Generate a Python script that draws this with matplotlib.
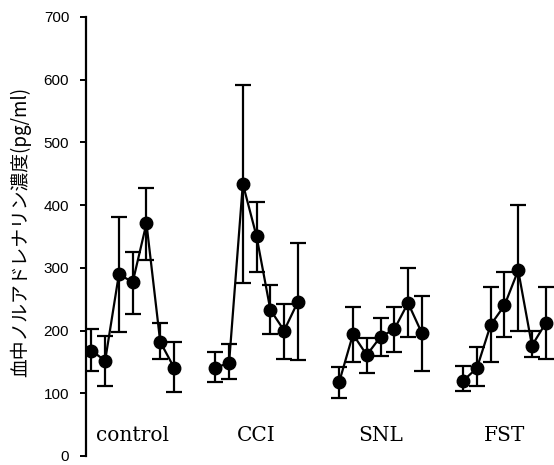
import matplotlib.pyplot as plt

# 各群の平均値と誤差範囲 (pg/ml)
groups = ['control', 'CCI', 'SNL', 'FST']
means = [
    [168, 152, 290, 277, 371, 182, 141],
    [141, 148, 434, 350, 233, 200, 246],
    [118, 194, 161, 190, 202, 244, 196],
    [120, 140, 209, 240, 296, 176, 212],
]
err_low = [
    [135, 112, 198, 227, 312, 155, 102],
    [118, 123, 276, 293, 195, 155, 153],
    [93, 150, 132, 160, 165, 190, 135],
    [103, 111, 150, 190, 200, 158, 155],
]
err_high = [
    [202, 192, 381, 326, 428, 212, 182],
    [165, 178, 592, 405, 273, 243, 340],
    [142, 238, 188, 220, 238, 300, 255],
    [143, 173, 270, 293, 400, 199, 270],
]
yticks = [0, 100, 200, 300, 400, 500, 600, 700]

plt.rcParams['font.family'] = ['Noto Sans CJK JP', 'DejaVu Sans']

fig = plt.figure(figsize=(5.54, 4.65), dpi=100)
ax = fig.add_axes([0.155, 0.0194, 0.845, 0.9441])

for g, name in enumerate(groups):
    xs = [g * 9 + i for i in range(len(means[g]))]
    lo = [m - l for m, l in zip(means[g], err_low[g])]
    hi = [h - m for m, h in zip(means[g], err_high[g])]
    ax.errorbar(xs, means[g], yerr=[lo, hi], fmt='-o', color='black',
                ecolor='black', elinewidth=1.6, capsize=6, capthick=1.6,
                linewidth=1.6, markersize=9)
    ax.text(g * 9 + 3, 33, name, ha='center', va='center',
            fontsize=14.5, family='DejaVu Serif')

ax.set_xlim(-0.4, 33.6)
ax.set_ylim(0, 700)
ax.set_yticks(yticks)
ax.set_xticks([])
for s in ['top', 'right', 'bottom']:
    ax.spines[s].set_visible(False)
ax.spines['left'].set_linewidth(1.6)
ax.tick_params(axis='y', direction='out', length=4, width=1.4,
               labelsize=11, pad=8)
for lab in ax.get_yticklabels():
    lab.set_family('Liberation Sans')
ax.set_ylabel('血中ノルアドレナリン濃度(pg/ml)', fontsize=13.5)
ax.yaxis.set_label_coords(-0.117, 0.51)

plt.savefig('out.png', dpi=100)
